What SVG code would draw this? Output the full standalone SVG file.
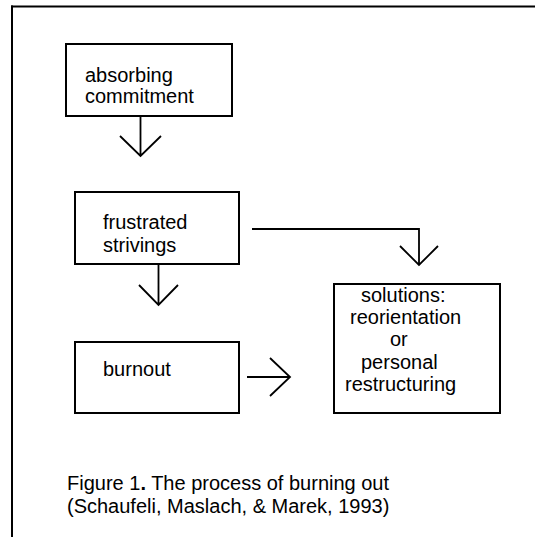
<svg xmlns="http://www.w3.org/2000/svg" width="535" height="537" viewBox="0 0 535 537">
<style>
.box{fill:#fff;stroke:#000;stroke-width:2}
.t{font-family:"Liberation Sans",Arial,sans-serif;font-size:20px;fill:#000}
.c{fill:none;stroke:#000;stroke-width:1.8;stroke-linecap:butt;stroke-linejoin:miter}
</style>
<rect width="535" height="537" fill="#fff"/>
<g id="frame">
<line x1="11" y1="6.5" x2="535" y2="6.5" stroke="#000" stroke-width="2"/>
<line x1="12" y1="5.5" x2="12" y2="537" stroke="#000" stroke-width="2"/>
</g>
<g id="connectors">
<path class="c" d="M140.5 116V155.5M120 136L140.5 156L161 136"/>
<path class="c" d="M158.5 264V304.5M139 285L158.5 305L178 285"/>
<path class="c" d="M252 229H419V264.5M400 246L419 265L438 246"/>
<path class="c" d="M247 377H289.5M270 358L290 377L270 396"/>
</g>
<g id="n-absorbing">
<rect class="box" x="66" y="44" width="166" height="72"/>
<text class="t" x="85" y="82">absorbing</text>
<text class="t" x="85" y="103">commitment</text>
</g>
<g id="n-frustrated">
<rect class="box" x="75" y="192" width="164" height="72"/>
<text class="t" x="103" y="229">frustrated</text>
<text class="t" x="103" y="252">strivings</text>
</g>
<g id="n-burnout">
<rect class="box" x="75" y="342" width="164" height="71"/>
<text class="t" x="103" y="376">burnout</text>
</g>
<g id="n-solutions">
<rect class="box" x="334" y="284" width="166" height="129"/>
<text class="t" x="361" y="302">solutions:</text>
<text class="t" x="350" y="324">reorientation</text>
<text class="t" x="390" y="346">or</text>
<text class="t" x="361" y="368.5">personal</text>
<text class="t" x="345" y="390.5">restructuring</text>
</g>
<g id="caption">
<text class="t" x="67" y="490">Figure 1<tspan font-weight="bold">.</tspan> The process of burning out</text>
<text class="t" x="67" y="513">(Schaufeli, Maslach, &amp; Marek, 1993)</text>
</g>
</svg>
